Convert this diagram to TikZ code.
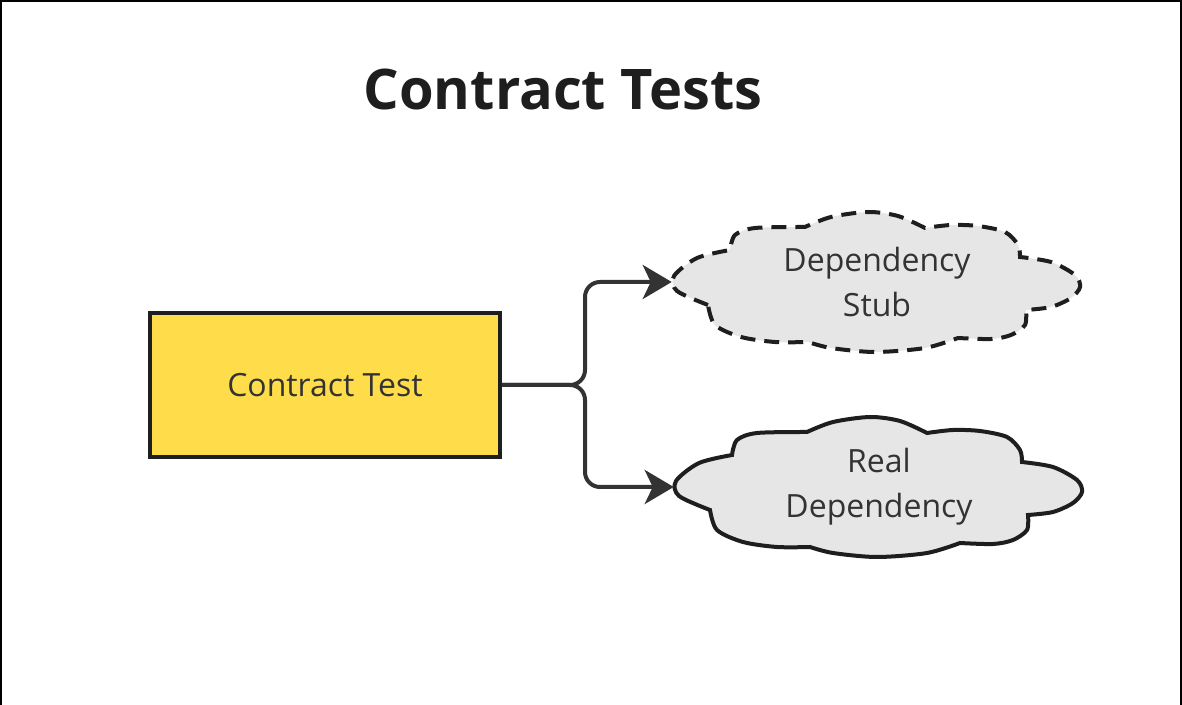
\documentclass[tikz,border=0pt]{standalone}
\usepackage{fontspec}
\setmainfont{Open Sans}
\usetikzlibrary{arrows.meta}

\definecolor{boxyellow}{HTML}{FFDD4A}
\definecolor{cloudgray}{HTML}{E6E6E6}
\definecolor{inkdark}{HTML}{1E1E1E}
\definecolor{linkgray}{HTML}{333333}

\tikzset{
  testbox/.style={draw=inkdark, fill=boxyellow, line width=4*0.75pt,
    minimum width=350*0.75pt, minimum height=144*0.75pt,
    font=\fontsize{24}{28}\selectfont, text=linkgray},
  cloudtext/.style={minimum width=410*0.75pt, minimum height=140*0.75pt,
    inner sep=0pt, align=center, font=\fontsize{24}{34}\selectfont, text=linkgray},
  cloudline/.style={draw=inkdark, fill=cloudgray, line width=4*0.75pt},
  stubline/.style={dash pattern=on 15*0.75pt off 9*0.75pt},
  link/.style={draw=linkgray, line width=4*0.75pt, rounded corners=15*0.75pt,
    -{Stealth[length=29*0.75pt, width=34*0.75pt, inset=8*0.75pt]}},
  % cloud outline, one smooth plot per puff
  puffs/.pic={
    \path[pic actions]
      plot[smooth] coordinates {(-169,23) (-200,9) (-203,-6) (-180,-24) (-147,-32)}
      -- plot[smooth] coordinates {(-147,-32) (-142,-47) (-122,-54) (-72,-55)}
      -- plot[smooth] coordinates {(-72,-55) (-46,-65) (-9,-70) (21,-66) (48,-54)}
      -- plot[smooth] coordinates {(48,-54) (74,-57) (101,-56) (128,-50) (141,-37) (143,-25)}
      -- plot[smooth] coordinates {(143,-25) (174,-20) (198,-7) (203,5) (194,16) (174,25) (149,28)}
      -- plot[smooth] coordinates {(149,28) (148,43) (134,53) (114,57) (81,56)}
      -- plot[smooth] coordinates {(81,56) (48,66) (-2,70) (-46,66) (-69,60)}
      -- plot[smooth] coordinates {(-69,60) (-102,60) (-136,55) (-162,43) (-169,23)}
      -- cycle;
  }
}

\begin{document}
\begin{tikzpicture}[x=0.75pt, y=-0.75pt]
\useasboundingbox (0,0) rectangle (1182,705);
\draw[line width=1.5*0.75pt] (0.8,705) -- (0.8,0.8) -- (1181.2,0.8) -- (1181.2,705);

\node[font=\bfseries\fontsize{42}{48}\selectfont, text=inkdark] (title) at (563,90) {Contract Tests};

\pic[cloudline, stubline] at (877,282) {puffs};
\pic[cloudline] at (879,487) {puffs};

\node[testbox] (ct) at (325,385) {Contract Test};
\node[cloudtext] (stub) at (877,282) {Dependency\\Stub};
\node[cloudtext] (real) at (879,487) {Real\\Dependency};

\coordinate (fork) at (585,385);
\draw[link] (ct.east) -- (fork) |- (stub.west);
\draw[link] (ct.east) -- (fork) |- (real.west);
\end{tikzpicture}
\end{document}
